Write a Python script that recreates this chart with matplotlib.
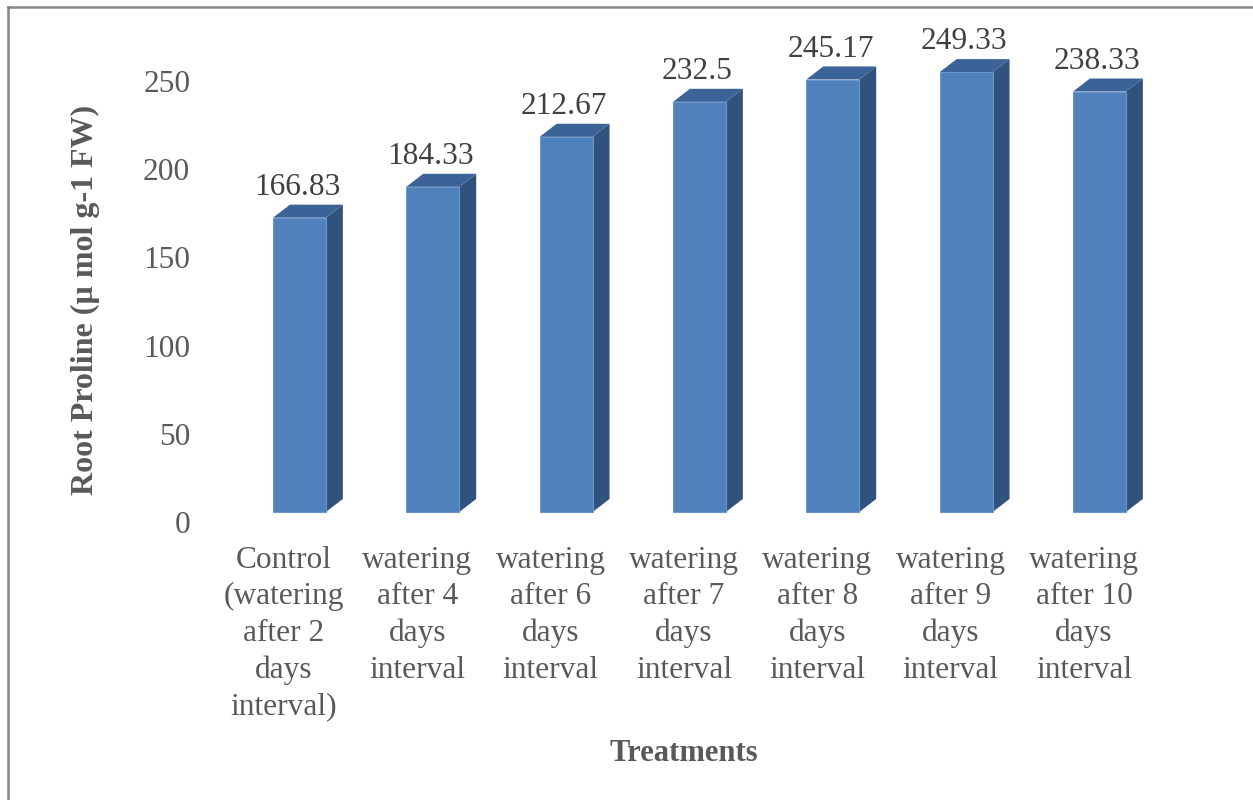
import matplotlib
matplotlib.use("Agg")
import matplotlib.pyplot as plt
import matplotlib.transforms as mtransforms
from matplotlib.patches import Polygon
from matplotlib.lines import Line2D

treatments = [
    "Control\n(watering\nafter 2\ndays\ninterval)",
    "watering\nafter 4\ndays\ninterval",
    "watering\nafter 6\ndays\ninterval",
    "watering\nafter 7\ndays\ninterval",
    "watering\nafter 8\ndays\ninterval",
    "watering\nafter 9\ndays\ninterval",
    "watering\nafter 10\ndays\ninterval",
]
root_proline = [166.83, 184.33, 212.67, 232.5, 245.17, 249.33, 238.33]
yticks = [0, 50, 100, 150, 200, 250]

plt.rcParams['font.family'] = ['Liberation Serif', 'DejaVu Serif']

front_col = '#4F81BD'
side_col = '#30527E'
top_col = '#3B6397'
text_col = '#595959'

fig = plt.figure(figsize=(12.53, 8.0), dpi=100)
ax = fig.add_axes([200 / 1253, 278 / 800, 968 / 1253, 476.3 / 800])
ax.set_xlim(-0.63, 6.63)
ax.set_ylim(0, 270)

# fake 3d columns: front face offset a little, with depth going up and right
x = list(range(len(treatments)))
left_off = -0.0825
width = 0.397
dx = 0.127
dy = 7.4
tr = mtransforms.offset_copy(ax.transData, fig=fig, x=0, y=10, units='dots')

for xi, v in zip(x, root_proline):
    x0 = xi + left_off
    x1 = x0 + width
    ax.add_patch(Polygon([(x1, 0), (x1 + dx, dy), (x1 + dx, v + dy), (x1, v)],
                         closed=True, facecolor=side_col, edgecolor='none',
                         transform=tr))
    ax.add_patch(Polygon([(x0, v), (x0 + dx, v + dy), (x1 + dx, v + dy), (x1, v)],
                         closed=True, facecolor=top_col, edgecolor='none',
                         transform=tr))
    ax.bar(x0, v, width=width, align='edge', color=front_col,
           edgecolor='#6E96CB', linewidth=0.8, transform=tr)
    ax.text(x0 + width / 2 - 0.015, v + dy + 1.5, f"{v:g}", ha='center',
            va='bottom', fontsize=22.6, color='#404040', transform=tr)

ax.set_yticks(yticks)
ax.set_yticklabels([str(t) for t in yticks])
ax.set_xticks(x)
ax.set_xticklabels(treatments, linespacing=1.34)
ax.tick_params(axis='both', length=0, labelsize=22.6, labelcolor=text_col)
ax.tick_params(axis='y', pad=7)
ax.tick_params(axis='x', pad=17)
for s in ax.spines.values():
    s.set_visible(False)

ax.set_xlabel("Treatments", fontsize=22, fontweight='bold', color=text_col)
ax.set_ylabel("Root Proline (µ mol g-1 FW)", fontsize=23, fontweight='bold',
              color=text_col)
ax.yaxis.set_label_coords(-0.1035, 0.466)
ax.xaxis.set_label_coords(0.5, -0.455)

# chart area border (top and left edges visible)
bx = 7.5 / 1253
by = 1 - 7 / 800
fig.add_artist(Line2D([bx, 1], [by, by], color='#868686', linewidth=1.8,
                      transform=fig.transFigure))
fig.add_artist(Line2D([bx, bx], [0, by], color='#868686', linewidth=1.8,
                      transform=fig.transFigure))

fig.savefig("out.png", dpi=100)
